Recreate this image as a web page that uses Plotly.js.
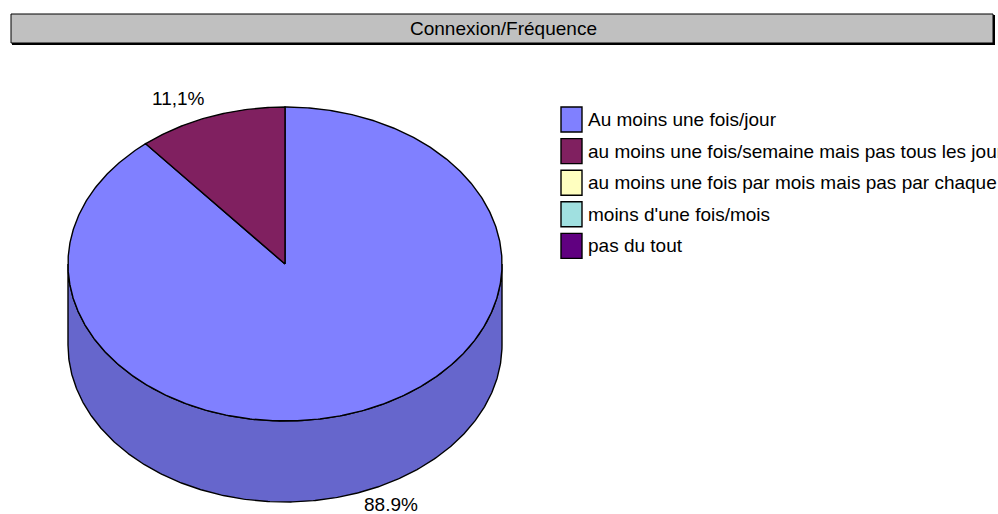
<!DOCTYPE html>
<html>
<head>
<meta charset="utf-8">
<script src="https://cdn.plot.ly/plotly-3.0.1.min.js"></script>
<style>html,body{margin:0;padding:0;background:#fff;}#chart{width:998px;height:514px;}</style>
</head>
<body>
<div id="chart"></div>
<script>
// ---- data ----
const chartTitle = 'Connexion/Fréquence';
const categories = [
  'Au moins une fois/jour',
  'au moins une fois/semaine mais pas tous les jours',
  'au moins une fois par mois mais pas par chaque semaine',
  "moins d'une fois/mois",
  'pas du tout'
];
const values = [88.9, 11.1, 0, 0, 0];
const pctLabels = ['88.9%', '11,1%', '', '', ''];
const topColors = ['#8080ff', '#802060', '#ffffc0', '#a0e0e0', '#600080'];
const sideColors = ['#6666cc', '#661a4d', '#cccc9a', '#80b3b3', '#4d0066'];

// ---- geometry (layout) ----
const W = 998, H = 514;
const cx = 285, cy = 264, rx = 217, ry = 157, depth = 81;
const FONT = '"Liberation Sans", Arial, sans-serif';
const rad = d => d * Math.PI / 180;
const pt = (phi, dy) => [cx + rx * Math.cos(rad(phi)), cy - ry * Math.sin(rad(phi)) + dy];

function arc(from, to, dy) {
  const xs = [], ys = [];
  const n = Math.max(2, Math.ceil(Math.abs(to - from) / 0.5));
  for (let i = 0; i <= n; i++) {
    const p = pt(from + (to - from) * i / n, dy);
    xs.push(p[0]); ys.push(p[1]);
  }
  return [xs, ys];
}

const total = values.reduce((a, b) => a + b, 0);
const slices = [];
let ang = 90;
values.forEach((v, i) => {
  const sweep = v / total * 360;
  slices.push({i, a1: ang, a2: ang - sweep, v});
  ang -= sweep;
});

const traces = [];
// side walls
slices.forEach(s => {
  if (s.v <= 0) return;
  for (let k = -2; k <= 1; k++) {
    const lo = Math.max(s.a2, -180 + 360 * k), hi = Math.min(s.a1, 360 * k);
    if (lo < hi) {
      const top = arc(hi, lo, 0), bot = arc(lo, hi, depth);
      traces.push({
        type: 'scatter', mode: 'lines', fill: 'toself',
        x: top[0].concat(bot[0], [top[0][0]]),
        y: top[1].concat(bot[1], [top[1][0]]),
        fillcolor: sideColors[s.i], line: {color: '#000', width: 1.4},
        hoverinfo: 'skip', showlegend: false
      });
    }
  }
});
// top faces
slices.forEach(s => {
  if (s.v <= 0) return;
  const a = arc(s.a1, s.a2, 0);
  traces.push({
    type: 'scatter', mode: 'lines', fill: 'toself',
    x: [cx].concat(a[0], [cx]),
    y: [cy].concat(a[1], [cy]),
    fillcolor: topColors[s.i], line: {color: '#000', width: 1.4},
    hoverinfo: 'skip', showlegend: false
  });
});

const shapes = [];
const annotations = [];
// title box
shapes.push({type: 'rect', xref: 'x', yref: 'y', x0: 12, x1: 995, y0: 15, y1: 45, fillcolor: '#000', line: {width: 0}});
shapes.push({type: 'rect', xref: 'x', yref: 'y', x0: 11, x1: 993, y0: 14, y1: 43, fillcolor: '#c0c0c0', line: {color: '#000', width: 1}});
annotations.push({xref: 'x', yref: 'y', x: 503, y: 28.5, text: chartTitle, showarrow: false,
  font: {family: FONT, size: 19, color: '#000'}, xanchor: 'center', yanchor: 'middle'});

// percent labels
slices.forEach(s => {
  if (s.v <= 0 || !pctLabels[s.i]) return;
  const mid = (s.a1 + s.a2) / 2;
  const sn = Math.sin(rad(mid));
  const x = cx + rx * 1.43 * Math.cos(rad(mid));
  const y = sn < 0 ? cy - ry * 1.08 * sn + depth : cy - ry * 1.12 * sn;
  annotations.push({xref: 'x', yref: 'y', x: x, y: y, text: pctLabels[s.i], showarrow: false,
    font: {family: FONT, size: 19, color: '#000'}, xanchor: 'center', yanchor: 'middle'});
});

// legend
categories.forEach((c, i) => {
  const y0 = 107 + i * 31.6;
  shapes.push({type: 'rect', xref: 'x', yref: 'y', x0: 561, x1: 582, y0: y0, y1: y0 + 25,
    fillcolor: topColors[i], line: {color: '#000', width: 1.4}});
  annotations.push({xref: 'x', yref: 'y', x: 586, y: y0 + 12.5, text: c, showarrow: false,
    font: {family: FONT, size: 19, color: '#000'}, xanchor: 'left', yanchor: 'middle'});
});

const layout = {
  width: W, height: H,
  margin: {l: 0, r: 0, t: 0, b: 0, pad: 0},
  paper_bgcolor: '#fff', plot_bgcolor: '#fff',
  xaxis: {range: [0, W], visible: false, fixedrange: true},
  yaxis: {range: [H, 0], visible: false, fixedrange: true},
  showlegend: false,
  shapes: shapes, annotations: annotations
};
Plotly.newPlot('chart', traces, layout, {displayModeBar: false, staticPlot: true});
</script>
</body>
</html>
